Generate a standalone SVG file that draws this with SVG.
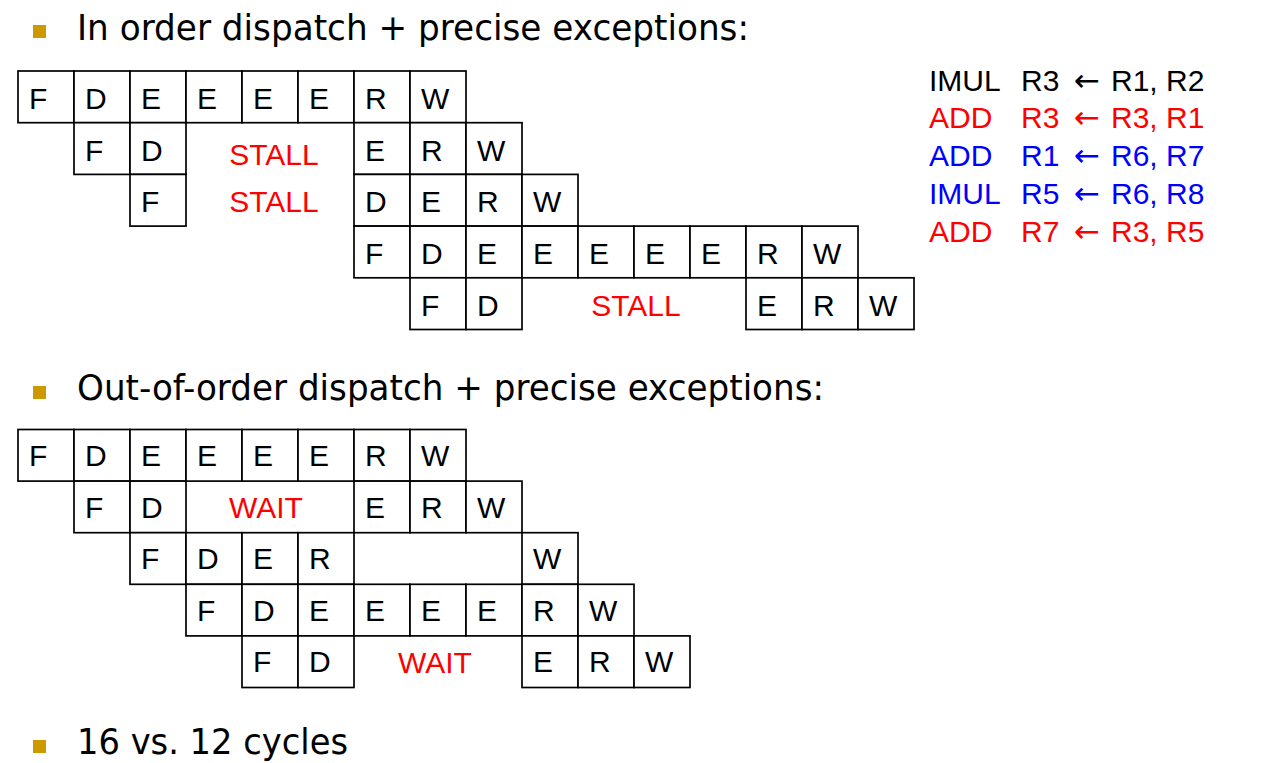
<svg xmlns="http://www.w3.org/2000/svg" width="1274" height="763" viewBox="0 0 1274 763">
<style>
.c rect{fill:#fff;stroke:#000;stroke-width:1.7}
.c text{font-family:"Liberation Sans",Arial,sans-serif;font-size:30px;fill:#000}
.lbl{font-family:"Liberation Sans",Arial,sans-serif;font-size:30px;fill:#FF0000;text-anchor:middle}
.h{font-family:"DejaVu Sans",Verdana,sans-serif;font-size:36px;fill:#000}
.b{fill:#CC9900}
.ins{font-family:"Liberation Sans",Arial,sans-serif;font-size:30px}
.arr{font-family:"DejaVu Sans",sans-serif;font-size:31px}
</style>
<rect width="1274" height="763" fill="#fff"/>
<g id="heading1"><rect class="b" x="33" y="25" width="13" height="13"/><text class="h" x="77" y="39.5" textLength="672" lengthAdjust="spacingAndGlyphs">In order dispatch + precise exceptions:</text></g>
<g id="heading2"><rect class="b" x="33" y="386" width="13" height="13"/><text class="h" x="77" y="400" textLength="747" lengthAdjust="spacingAndGlyphs">Out-of-order dispatch + precise exceptions:</text></g>
<g id="heading3"><rect class="b" x="33" y="740" width="13" height="13"/><text class="h" x="77" y="754" textLength="271" lengthAdjust="spacingAndGlyphs">16 vs. 12 cycles</text></g>

<g id="connectors"></g>

<g id="top-pipeline" class="c">
<g id="t0-0"><rect x="18" y="71" width="56" height="51.7"/><text x="29" y="109">F</text></g>
<g id="t0-1"><rect x="74" y="71" width="56" height="51.7"/><text x="85" y="109">D</text></g>
<g id="t0-2"><rect x="130" y="71" width="56" height="51.7"/><text x="141" y="109">E</text></g>
<g id="t0-3"><rect x="186" y="71" width="56" height="51.7"/><text x="197" y="109">E</text></g>
<g id="t0-4"><rect x="242" y="71" width="56" height="51.7"/><text x="253" y="109">E</text></g>
<g id="t0-5"><rect x="298" y="71" width="56" height="51.7"/><text x="309" y="109">E</text></g>
<g id="t0-6"><rect x="354" y="71" width="56" height="51.7"/><text x="365" y="109">R</text></g>
<g id="t0-7"><rect x="410" y="71" width="56" height="51.7"/><text x="421" y="109">W</text></g>

<g id="t1-1"><rect x="74" y="122.7" width="56" height="51.7"/><text x="85" y="160.7">F</text></g>
<g id="t1-2"><rect x="130" y="122.7" width="56" height="51.7"/><text x="141" y="160.7">D</text></g>
<g id="t1-6"><rect x="354" y="122.7" width="56" height="51.7"/><text x="365" y="160.7">E</text></g>
<g id="t1-7"><rect x="410" y="122.7" width="56" height="51.7"/><text x="421" y="160.7">R</text></g>
<g id="t1-8"><rect x="466" y="122.7" width="56" height="51.7"/><text x="477" y="160.7">W</text></g>

<g id="t2-2"><rect x="130" y="174.4" width="56" height="51.7"/><text x="141" y="212.4">F</text></g>
<g id="t2-6"><rect x="354" y="174.4" width="56" height="51.7"/><text x="365" y="212.4">D</text></g>
<g id="t2-7"><rect x="410" y="174.4" width="56" height="51.7"/><text x="421" y="212.4">E</text></g>
<g id="t2-8"><rect x="466" y="174.4" width="56" height="51.7"/><text x="477" y="212.4">R</text></g>
<g id="t2-9"><rect x="522" y="174.4" width="56" height="51.7"/><text x="533" y="212.4">W</text></g>

<g id="t3-6"><rect x="354" y="226.1" width="56" height="51.7"/><text x="365" y="264.1">F</text></g>
<g id="t3-7"><rect x="410" y="226.1" width="56" height="51.7"/><text x="421" y="264.1">D</text></g>
<g id="t3-8"><rect x="466" y="226.1" width="56" height="51.7"/><text x="477" y="264.1">E</text></g>
<g id="t3-9"><rect x="522" y="226.1" width="56" height="51.7"/><text x="533" y="264.1">E</text></g>
<g id="t3-10"><rect x="578" y="226.1" width="56" height="51.7"/><text x="589" y="264.1">E</text></g>
<g id="t3-11"><rect x="634" y="226.1" width="56" height="51.7"/><text x="645" y="264.1">E</text></g>
<g id="t3-12"><rect x="690" y="226.1" width="56" height="51.7"/><text x="701" y="264.1">E</text></g>
<g id="t3-13"><rect x="746" y="226.1" width="56" height="51.7"/><text x="757" y="264.1">R</text></g>
<g id="t3-14"><rect x="802" y="226.1" width="56" height="51.7"/><text x="813" y="264.1">W</text></g>

<g id="t4-7"><rect x="410" y="277.8" width="56" height="51.7"/><text x="421" y="315.8">F</text></g>
<g id="t4-8"><rect x="466" y="277.8" width="56" height="51.7"/><text x="477" y="315.8">D</text></g>
<g id="t4-13"><rect x="746" y="277.8" width="56" height="51.7"/><text x="757" y="315.8">E</text></g>
<g id="t4-14"><rect x="802" y="277.8" width="56" height="51.7"/><text x="813" y="315.8">R</text></g>
<g id="t4-15"><rect x="858" y="277.8" width="56" height="51.7"/><text x="869" y="315.8">W</text></g>
</g>
<g id="top-stalls">
<text class="lbl" x="274" y="165">STALL</text>
<text class="lbl" x="274" y="212">STALL</text>
<text class="lbl" x="636" y="316">STALL</text>
</g>

<g id="bottom-pipeline" class="c">
<g id="b0-0"><rect x="18" y="429.5" width="56" height="51.6"/><text x="29" y="466">F</text></g>
<g id="b0-1"><rect x="74" y="429.5" width="56" height="51.6"/><text x="85" y="466">D</text></g>
<g id="b0-2"><rect x="130" y="429.5" width="56" height="51.6"/><text x="141" y="466">E</text></g>
<g id="b0-3"><rect x="186" y="429.5" width="56" height="51.6"/><text x="197" y="466">E</text></g>
<g id="b0-4"><rect x="242" y="429.5" width="56" height="51.6"/><text x="253" y="466">E</text></g>
<g id="b0-5"><rect x="298" y="429.5" width="56" height="51.6"/><text x="309" y="466">E</text></g>
<g id="b0-6"><rect x="354" y="429.5" width="56" height="51.6"/><text x="365" y="466">R</text></g>
<g id="b0-7"><rect x="410" y="429.5" width="56" height="51.6"/><text x="421" y="466">W</text></g>

<g id="b1-1"><rect x="74" y="481.1" width="56" height="51.6"/><text x="85" y="517.6">F</text></g>
<g id="b1-2"><rect x="130" y="481.1" width="56" height="51.6"/><text x="141" y="517.6">D</text></g>
<g id="b1-6"><rect x="354" y="481.1" width="56" height="51.6"/><text x="365" y="517.6">E</text></g>
<g id="b1-7"><rect x="410" y="481.1" width="56" height="51.6"/><text x="421" y="517.6">R</text></g>
<g id="b1-8"><rect x="466" y="481.1" width="56" height="51.6"/><text x="477" y="517.6">W</text></g>

<g id="b2-2"><rect x="130" y="532.7" width="56" height="51.6"/><text x="141" y="569.2">F</text></g>
<g id="b2-3"><rect x="186" y="532.7" width="56" height="51.6"/><text x="197" y="569.2">D</text></g>
<g id="b2-4"><rect x="242" y="532.7" width="56" height="51.6"/><text x="253" y="569.2">E</text></g>
<g id="b2-5"><rect x="298" y="532.7" width="56" height="51.6"/><text x="309" y="569.2">R</text></g>
<g id="b2-9"><rect x="522" y="532.7" width="56" height="51.6"/><text x="533" y="569.2">W</text></g>

<g id="b3-3"><rect x="186" y="584.3" width="56" height="51.6"/><text x="197" y="620.8">F</text></g>
<g id="b3-4"><rect x="242" y="584.3" width="56" height="51.6"/><text x="253" y="620.8">D</text></g>
<g id="b3-5"><rect x="298" y="584.3" width="56" height="51.6"/><text x="309" y="620.8">E</text></g>
<g id="b3-6"><rect x="354" y="584.3" width="56" height="51.6"/><text x="365" y="620.8">E</text></g>
<g id="b3-7"><rect x="410" y="584.3" width="56" height="51.6"/><text x="421" y="620.8">E</text></g>
<g id="b3-8"><rect x="466" y="584.3" width="56" height="51.6"/><text x="477" y="620.8">E</text></g>
<g id="b3-9"><rect x="522" y="584.3" width="56" height="51.6"/><text x="533" y="620.8">R</text></g>
<g id="b3-10"><rect x="578" y="584.3" width="56" height="51.6"/><text x="589" y="620.8">W</text></g>

<g id="b4-4"><rect x="242" y="635.9" width="56" height="51.6"/><text x="253" y="672.4">F</text></g>
<g id="b4-5"><rect x="298" y="635.9" width="56" height="51.6"/><text x="309" y="672.4">D</text></g>
<g id="b4-9"><rect x="522" y="635.9" width="56" height="51.6"/><text x="533" y="672.4">E</text></g>
<g id="b4-10"><rect x="578" y="635.9" width="56" height="51.6"/><text x="589" y="672.4">R</text></g>
<g id="b4-11"><rect x="634" y="635.9" width="56" height="51.6"/><text x="645" y="672.4">W</text></g>
</g>
<g id="bottom-waits">
<text class="lbl" x="266" y="517.5">WAIT</text>
<text class="lbl" x="435" y="672.5">WAIT</text>
</g>

<g id="instructions" class="ins">
<text y="90.7" fill="#000"><tspan x="929">IMUL</tspan><tspan x="1021">R3</tspan><tspan class="arr" x="1087" text-anchor="middle">←</tspan><tspan x="1111">R1, R2</tspan></text>
<text y="128.3" fill="#FF0000"><tspan x="929">ADD</tspan><tspan x="1021">R3</tspan><tspan class="arr" x="1087" text-anchor="middle">←</tspan><tspan x="1111">R3, R1</tspan></text>
<text y="166" fill="#0000FF"><tspan x="929">ADD</tspan><tspan x="1021">R1</tspan><tspan class="arr" x="1087" text-anchor="middle">←</tspan><tspan x="1111">R6, R7</tspan></text>
<text y="204" fill="#0000FF"><tspan x="929">IMUL</tspan><tspan x="1021">R5</tspan><tspan class="arr" x="1087" text-anchor="middle">←</tspan><tspan x="1111">R6, R8</tspan></text>
<text y="241.7" fill="#FF0000"><tspan x="929">ADD</tspan><tspan x="1021">R7</tspan><tspan class="arr" x="1087" text-anchor="middle">←</tspan><tspan x="1111">R3, R5</tspan></text>
</g>
</svg>
